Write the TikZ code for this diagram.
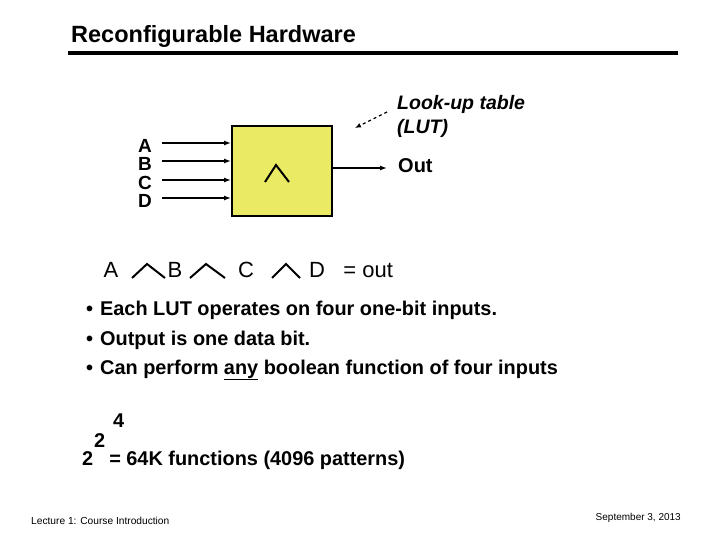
\documentclass[tikz,border=0pt]{standalone}
\usepackage{fontspec}
\setmainfont{Liberation Sans}
\usetikzlibrary{arrows.meta}
\begin{document}
\begin{tikzpicture}[x=1pt,y=-1pt,
  txt/.style={font=\bfseries\fontsize{19}{22}\selectfont,inner sep=0pt,anchor=west},
  bul/.style={font=\bfseries\fontsize{19.9}{22}\selectfont,inner sep=0pt,anchor=west},
  wire/.style={line width=1.3pt,-{Latex[length=7pt,width=5pt]}},
  wedge/.style={line width=2pt}]
\useasboundingbox (0,0) rectangle (720,540);
\node[txt,font=\bfseries\fontsize{23.5}{26}\selectfont] (title) at (71,36) {Reconfigurable Hardware};
\draw[line width=4pt] (68,53) -- (678,53);
\node[draw,line width=2pt,fill={rgb,255:red,234;green,234;blue,100},minimum width=100pt,minimum height=90pt] (lut) at (282,171) {};
\foreach \n/\y in {A/146,B/164,C/183,D/201}{
  \node[font=\bfseries\fontsize{19}{20}\selectfont,inner sep=0pt] (l\n) at (145,\y) {\n};
  \coordinate (s\n) at (162,\y-3);
  \draw[wire] (s\n) -- (s\n -| lut.west);
}
\draw[wedge] (265,182) -- (276,165) -- (289,182);
\node[txt,font=\bfseries\fontsize{20}{22}\selectfont] (out) at (398,166) {Out};
\coordinate (oe) at (387,168);
\draw[wire] (lut.east |- oe) -- (oe);
\node[txt,font=\bfseries\itshape\fontsize{19.5}{24}\selectfont,align=left,anchor=north west] (lab) at (397,95) {Look-up table\\(LUT)};
\coordinate (dd) at (387,112);
\draw[line width=1.2pt,dashed,-{Latex[length=6pt,width=5pt]}] (dd) -- (355,128);
\node[font=\fontsize{22}{24}\selectfont,inner sep=0pt] (fa) at (111,270) {A};
\draw[wedge] (132,278) -- (147,264) -- (165,278);
\node[font=\fontsize{22}{24}\selectfont,inner sep=0pt] (fb) at (175,270) {B};
\draw[wedge] (190,278) -- (206,264) -- (225,278);
\node[font=\fontsize{22}{24}\selectfont,inner sep=0pt] (fc) at (246,270) {C};
\draw[wedge] (272,278) -- (286,264) -- (300,278);
\node[font=\fontsize{22}{24}\selectfont,inner sep=0pt,anchor=west] (fd) at (309,270) {D\ \ \ = out};
\node[bul] (b1) at (86,310) {•\hspace{7pt}Each LUT operates on four one-bit inputs.};
\node[bul] (b2) at (86,340) {•\hspace{7pt}Output is one data bit.};
\node[bul] (b3) at (86,370) {•\hspace{7pt}Can perform \underline{any} boolean function of four inputs};
\node[bul] (e4) at (113,421) {4};
\node[bul] (e2) at (94,441) {2};
\node[bul] (eq) at (82,460) {2\hspace{16pt}= 64K functions (4096 patterns)};
\node[font=\fontsize{10.2}{11}\selectfont,inner sep=0pt,anchor=west] (foot) at (31,521) {Lecture 1: Course Introduction};
\node[font=\fontsize{10}{11}\selectfont,inner sep=0pt,anchor=east] (date) at (681,518) {September 3, 2013};
\end{tikzpicture}
\end{document}
